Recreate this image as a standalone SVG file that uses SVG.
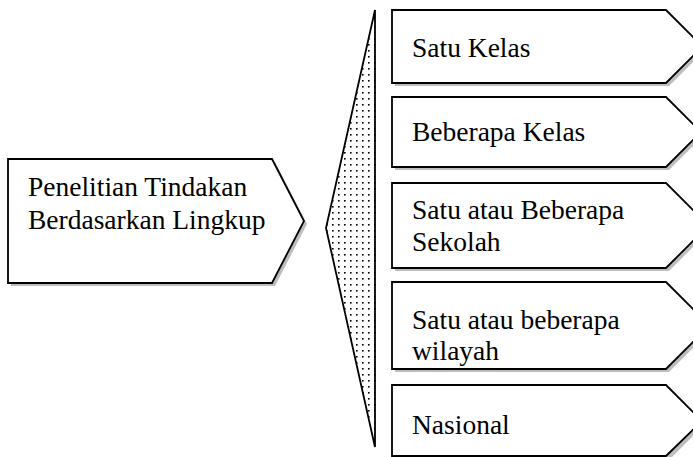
<svg xmlns="http://www.w3.org/2000/svg" width="693" height="457" viewBox="0 0 693 457">
  <style>
    .shape { fill: #ffffff; stroke: #000000; stroke-width: 1.8; stroke-linejoin: miter; }
    .shadow { fill: #bdbdbd; stroke: none; }
    .label { font-family: "Liberation Serif", "Times New Roman", serif; font-size: 27.5px; fill: #000000; }
    .wedge { fill: url(#dots); stroke: #000000; stroke-width: 1.8; }
  </style>
  <defs>
    <pattern id="dots" x="0" y="0" width="6" height="6" patternUnits="userSpaceOnUse">
      <rect width="6" height="6" fill="#ffffff"/>
      <rect x="2" y="2" width="1.6" height="1.6" fill="#000000"/>
    </pattern>
  </defs>

  <rect width="693" height="457" fill="#ffffff"/>

  <!-- source node -->
  <g id="node-lingkup">
    <polygon class="shadow" points="11,162 275,162 307,224 275,286 11,286"/>
    <polygon class="shape" points="8,159 272,159 304,221 272,283 8,283"/>
    <text class="label" x="28" y="196">Penelitian Tindakan</text>
    <text class="label" x="28" y="229">Berdasarkan Lingkup</text>
  </g>

  <!-- connector: dotted bracket wedge -->
  <g id="connectors">
    <polygon class="wedge" points="375,10 375,447 326,228"/>
  </g>

  <g id="node-satu-kelas">
    <polygon class="shadow" points="395,13 669,13 705.5,49.5 669,86 395,86"/>
    <polygon class="shape" points="392,10 666,10 702.5,46.5 666,83 392,83"/>
    <text class="label" x="412" y="57">Satu Kelas</text>
  </g>

  <g id="node-beberapa-kelas">
    <polygon class="shadow" points="395,100 669,100 704,135 669,170 395,170"/>
    <polygon class="shape" points="392,97 666,97 701,132 666,167 392,167"/>
    <text class="label" x="412" y="141">Beberapa Kelas</text>
  </g>

  <g id="node-sekolah">
    <polygon class="shadow" points="395,186 669,186 711.5,228.5 669,271 395,271"/>
    <polygon class="shape" points="392,183 666,183 708.5,225.5 666,268 392,268"/>
    <text class="label" x="412" y="219">Satu atau Beberapa</text>
    <text class="label" x="412" y="251">Sekolah</text>
  </g>

  <g id="node-wilayah">
    <polygon class="shadow" points="395,285 669,285 712.5,328.5 669,372 395,372"/>
    <polygon class="shape" points="392,282 666,282 709.5,325.5 666,369 392,369"/>
    <text class="label" x="412" y="329">Satu atau beberapa</text>
    <text class="label" x="412" y="360">wilayah</text>
  </g>

  <g id="node-nasional">
    <polygon class="shadow" points="395,388 669,388 705,424 669,460 395,460"/>
    <polygon class="shape" points="392,385 666,385 702,421 666,456 392,456"/>
    <text class="label" x="412" y="434">Nasional</text>
  </g>
</svg>
